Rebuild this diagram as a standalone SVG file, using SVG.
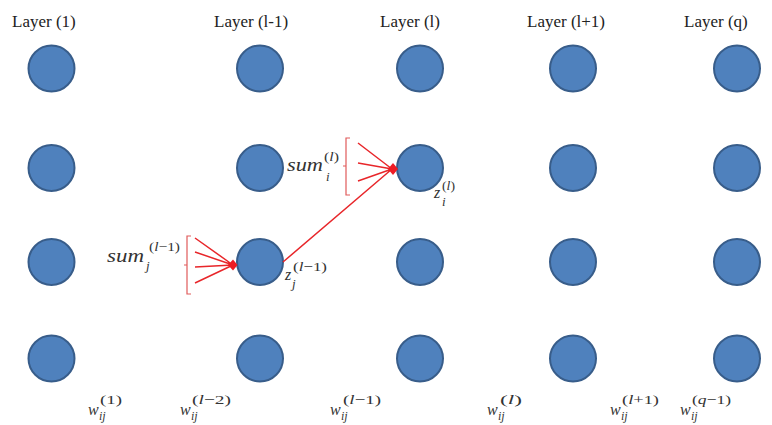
<svg xmlns="http://www.w3.org/2000/svg" width="772" height="425" viewBox="0 0 772 425">
<style>
.n{fill:#4f81bd;stroke:#385d8a;stroke-width:2}
.hd{font-family:"Liberation Serif",serif;font-size:17px;fill:#222}
.m{font-family:"Liberation Serif",serif;font-style:italic;fill:#333}
.b{font-size:19px}
.w{font-size:16px}
.z{font-size:16px}
.s{font-size:13px}
.t{font-size:12px}
.up{font-style:normal}
.r{stroke:#e8262a;stroke-width:1.5;fill:none}
.br{stroke:#e05a5a;stroke-width:1.2;fill:none}
.hd2{fill:#ee1c24}
</style>
<rect width="772" height="425" fill="#fff"/>
<g id="headers">
<text class="hd" x="12" y="27">Layer (1)</text>
<text class="hd" x="214" y="27">Layer (l-1)</text>
<text class="hd" x="380" y="27">Layer (l)</text>
<text class="hd" x="527" y="27">Layer (l+1)</text>
<text class="hd" x="684" y="27">Layer (q)</text>
</g>
<g id="nodes">
<g id="n1-1"><circle class="n" cx="51.5" cy="68.5" r="23"/></g>
<g id="n1-2"><circle class="n" cx="51.5" cy="168" r="23"/></g>
<g id="n1-3"><circle class="n" cx="51.5" cy="262" r="23"/></g>
<g id="n1-4"><circle class="n" cx="51.5" cy="358.5" r="23"/></g>
<g id="n2-1"><circle class="n" cx="260" cy="68.5" r="23"/></g>
<g id="n2-2"><circle class="n" cx="260" cy="168" r="23"/></g>
<g id="n2-3"><circle class="n" cx="260" cy="262" r="23"/></g>
<g id="n2-4"><circle class="n" cx="260" cy="358.5" r="23"/></g>
<g id="n3-1"><circle class="n" cx="420" cy="68.5" r="23"/></g>
<g id="n3-2"><circle class="n" cx="420" cy="168" r="23"/></g>
<g id="n3-3"><circle class="n" cx="420" cy="262" r="23"/></g>
<g id="n3-4"><circle class="n" cx="420" cy="358.5" r="23"/></g>
<g id="n4-1"><circle class="n" cx="573" cy="68.5" r="23"/></g>
<g id="n4-2"><circle class="n" cx="573" cy="168" r="23"/></g>
<g id="n4-3"><circle class="n" cx="573" cy="262" r="23"/></g>
<g id="n4-4"><circle class="n" cx="573" cy="358.5" r="23"/></g>
<g id="n5-1"><circle class="n" cx="737" cy="68.5" r="23"/></g>
<g id="n5-2"><circle class="n" cx="737" cy="168" r="23"/></g>
<g id="n5-3"><circle class="n" cx="737" cy="262" r="23"/></g>
<g id="n5-4"><circle class="n" cx="737" cy="358.5" r="23"/></g>
</g>
<g id="connectors">
<path class="br" d="M191,236 H187 V294 H191 M187,265 H184"/>
<path class="r" d="M195,238 L233,265 M195,252 L233,265 M195,267 L233,265 M195,283 L233,265"/>
<polygon class="hd2" points="228,265 233,259.5 237.5,265 233,270.5"/>
<path class="br" d="M350,138 H346 V195 H350 M346,166 H343"/>
<path class="r" d="M358,143 L392,169 M358,163 L392,169 M358,181 L392,169 M283,262 L392,169"/>
<polygon class="hd2" points="388,169 393,163 398,169 393,175"/>
</g>
<g id="labels">
<text class="m b" x="107" y="262" textLength="37" lengthAdjust="spacingAndGlyphs">sum</text>
<text class="m s" x="149" y="251" textLength="31" lengthAdjust="spacingAndGlyphs"><tspan class="up">(</tspan>l<tspan class="up">−1)</tspan></text>
<text class="m s" x="146" y="270">j</text>
<text class="m b" x="287" y="171" textLength="36" lengthAdjust="spacingAndGlyphs">sum</text>
<text class="m s" x="324" y="161" textLength="15" lengthAdjust="spacingAndGlyphs"><tspan class="up">(</tspan>l<tspan class="up">)</tspan></text>
<text class="m s" x="326" y="181">i</text>
<text class="m z" x="285" y="280">z</text>
<text class="m s" x="293" y="271" textLength="34" lengthAdjust="spacingAndGlyphs"><tspan class="up">(</tspan>l<tspan class="up">−1)</tspan></text>
<text class="m s" x="292" y="288">j</text>
<text class="m z" x="434" y="198">z</text>
<text class="m s" x="442" y="190" textLength="13" lengthAdjust="spacingAndGlyphs"><tspan class="up">(</tspan>l<tspan class="up">)</tspan></text>
<text class="m s" x="442" y="206">i</text>
<g id="weights">
<text class="m w" x="88" y="415">w</text><text class="m s" x="100" y="404" textLength="22" lengthAdjust="spacingAndGlyphs"><tspan class="up">(1)</tspan></text><text class="m t" x="99" y="420">ij</text>
<text class="m w" x="180" y="415">w</text><text class="m s" x="192" y="404" textLength="39" lengthAdjust="spacingAndGlyphs"><tspan class="up">(</tspan>l<tspan class="up">−2)</tspan></text><text class="m t" x="191" y="420">ij</text>
<text class="m w" x="330" y="415">w</text><text class="m s" x="343" y="404" textLength="38" lengthAdjust="spacingAndGlyphs"><tspan class="up">(</tspan>l<tspan class="up">−1)</tspan></text><text class="m t" x="341" y="420">ij</text>
<text class="m w" x="487" y="415">w</text><text class="m s" x="500" y="404" textLength="22" lengthAdjust="spacingAndGlyphs"><tspan class="up">(</tspan>l<tspan class="up">)</tspan></text><text class="m t" x="498" y="420">ij</text>
<text class="m w" x="610" y="415">w</text><text class="m s" x="622" y="404" textLength="37" lengthAdjust="spacingAndGlyphs"><tspan class="up">(</tspan>l<tspan class="up">+1)</tspan></text><text class="m t" x="621" y="420">ij</text>
<text class="m w" x="680" y="415">w</text><text class="m s" x="692" y="404" textLength="39" lengthAdjust="spacingAndGlyphs"><tspan class="up">(</tspan>q<tspan class="up">−1)</tspan></text><text class="m t" x="691" y="420">ij</text>
</g>
</g>
</svg>
